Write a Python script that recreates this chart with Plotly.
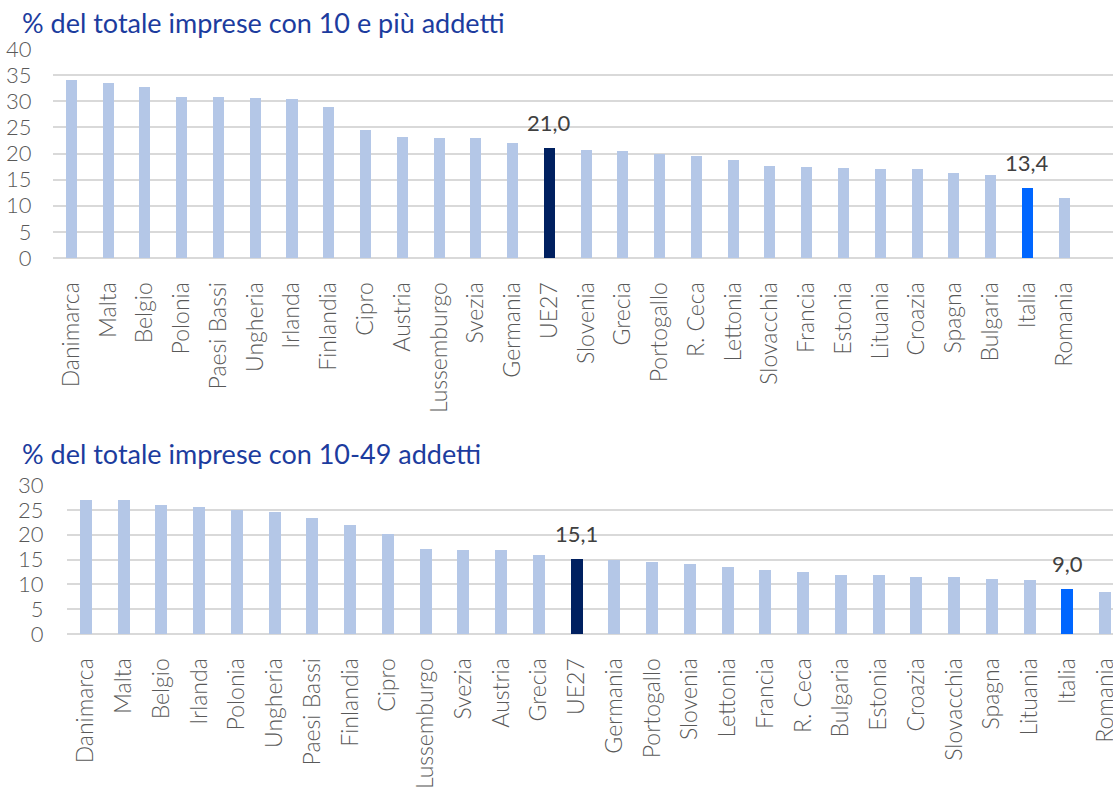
import plotly.graph_objects as go

# Quota delle imprese (con 10 e più addetti)
paesi_tot = ["Danimarca", "Malta", "Belgio", "Polonia", "Paesi Bassi", "Ungheria",
             "Irlanda", "Finlandia", "Cipro", "Austria", "Lussemburgo", "Svezia",
             "Germania", "UE27", "Slovenia", "Grecia", "Portogallo", "R. Ceca",
             "Lettonia", "Slovacchia", "Francia", "Estonia", "Lituania", "Croazia",
             "Spagna", "Bulgaria", "Italia", "Romania"]
valori_tot = [34.1, 33.5, 32.7, 30.9, 30.8, 30.6, 30.4, 28.9, 24.5, 23.2, 23.0, 23.0,
              22.1, 21.0, 20.6, 20.4, 20.0, 19.5, 18.7, 17.6, 17.5, 17.2, 17.1, 17.0,
              16.3, 15.9, 13.4, 11.4]

# Quota delle imprese con 10-49 addetti
paesi_pic = ["Danimarca", "Malta", "Belgio", "Irlanda", "Polonia", "Ungheria",
             "Paesi Bassi", "Finlandia", "Cipro", "Lussemburgo", "Svezia", "Austria",
             "Grecia", "UE27", "Germania", "Portogallo", "Slovenia", "Lettonia",
             "Francia", "R. Ceca", "Bulgaria", "Estonia", "Croazia", "Slovacchia",
             "Spagna", "Lituania", "Italia", "Romania"]
valori_pic = [27.0, 26.9, 26.0, 25.6, 25.0, 24.6, 23.4, 21.9, 20.1, 17.1, 16.9, 16.9,
              15.9, 15.1, 15.0, 14.4, 14.0, 13.4, 12.8, 12.4, 11.8, 11.8, 11.4, 11.4,
              11.0, 10.8, 9.0, 8.4]

titoli = ["% del totale imprese con 10 e più addetti",
          "% del totale imprese con 10-49 addetti"]
evidenziati = ["UE27", "Italia"]

C_BASE = "#b4c7e7"
C_UE = "#002060"
C_ITA = "#0066ff"
GRID = "#d9d9d9"
TXT = "#595959"
C_TITLE = "#1c3c9e"
FONT = "Lato"

W, H = 1113, 793


def colori(paesi):
    out = []
    for p in paesi:
        if p == "UE27":
            out.append(C_UE)
        elif p == "Italia":
            out.append(C_ITA)
        else:
            out.append(C_BASE)
    return out


fig = go.Figure()
fig.add_trace(go.Bar(x=paesi_tot, y=valori_tot, marker_color=colori(paesi_tot),
                     marker_line_width=0, width=0.30, xaxis="x", yaxis="y",
                     hoverinfo="x+y"))
fig.add_trace(go.Bar(x=paesi_pic, y=valori_pic, marker_color=colori(paesi_pic),
                     marker_line_width=0, width=0.32, xaxis="x2", yaxis="y2",
                     hoverinfo="x+y"))

annotations = []
for paesi, valori, xr, yr in [(paesi_tot, valori_tot, "x", "y"),
                              (paesi_pic, valori_pic, "x2", "y2")]:
    for p, v in zip(paesi, valori):
        if p in evidenziati:
            annotations.append(dict(
                x=p, y=v, xref=xr, yref=yr, text=f"{v:.1f}".replace(".", ","),
                showarrow=False, yanchor="bottom", yshift=10,
                font=dict(family=FONT, size=22, color="#404040")))

# Titoli dei due pannelli
annotations.append(dict(x=20 / W, y=1 - 22 / H, xref="paper", yref="paper",
                        text=titoli[0], showarrow=False, xanchor="left",
                        yanchor="middle",
                        font=dict(family=FONT, size=27, color=C_TITLE)))
annotations.append(dict(x=20 / W, y=1 - 453 / H, xref="paper", yref="paper",
                        text=titoli[1], showarrow=False, xanchor="left",
                        yanchor="middle",
                        font=dict(family=FONT, size=27, color=C_TITLE)))

xcommon = dict(type="category", tickangle=-90, showgrid=False, zeroline=False,
               showline=False, ticks="outside", ticklen=14, tickcolor="rgba(0,0,0,0)",
               tickfont=dict(family=FONT, size=23, color=TXT, weight=300),
               fixedrange=True, automargin=False)
ycommon = dict(showgrid=True, gridcolor=GRID, gridwidth=2, zeroline=True,
               zerolinecolor=GRID, zerolinewidth=2, showline=False,
               ticks="outside", tickcolor="rgba(0,0,0,0)",
               tickfont=dict(family=FONT, size=22, color=TXT, weight=300),
               fixedrange=True, automargin=False)

fig.update_layout(
    width=W, height=H,
    margin=dict(l=0, r=0, t=0, b=0, autoexpand=False),
    paper_bgcolor="white", plot_bgcolor="white",
    showlegend=False, bargap=0,
    xaxis=dict(xcommon, domain=[53 / W, 1], range=[-0.5, 28.33], anchor="y"),
    yaxis=dict(ycommon, domain=[1 - 258 / H, 1 - 49 / H], range=[0, 40], dtick=5,
               ticklen=16, anchor="x"),
    xaxis2=dict(xcommon, domain=[67 / W, 1], range=[-0.5, 27.21], anchor="y2"),
    yaxis2=dict(ycommon, domain=[1 - 634 / H, 1 - 485 / H], range=[0, 30], dtick=5,
                ticklen=18, anchor="x2"),
    annotations=annotations,
)

fig.write_html("out.html")
